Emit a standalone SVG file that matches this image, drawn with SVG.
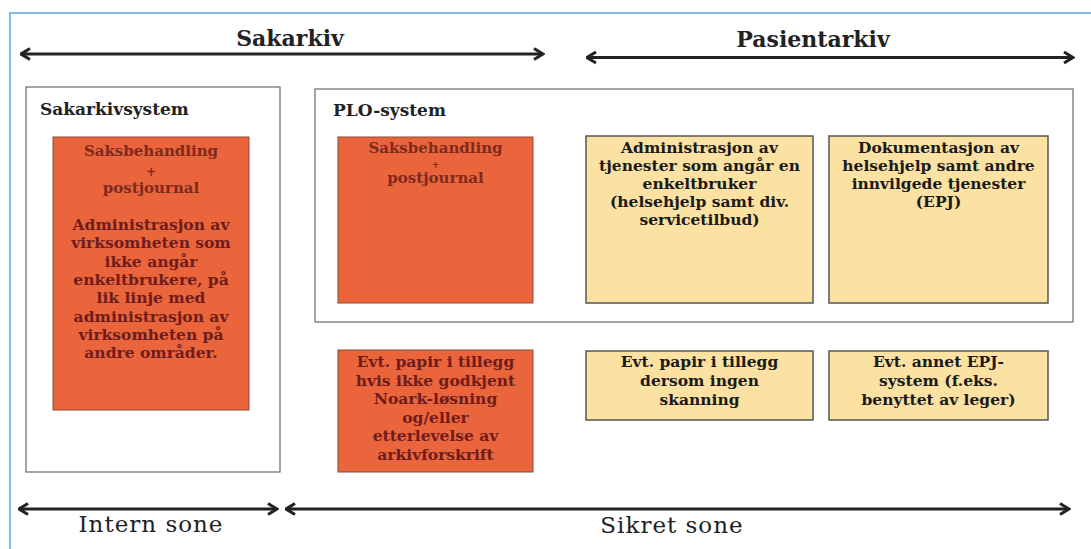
<svg xmlns="http://www.w3.org/2000/svg" width="1091" height="549" viewBox="0 0 1091 549">
  <style>
    .frame { fill: none; stroke: #5aa8e4; stroke-width: 1.5; }
    .container { fill: #ffffff; stroke: #6a6a6a; stroke-width: 1.2; }
    .orange { fill: #ea653b; stroke: #8c4a36; stroke-width: 1; }
    .yellow { fill: #fbe2a2; stroke: #555555; stroke-width: 1.5; }
    .head { font-family: "DejaVu Serif", "Liberation Serif", serif; font-weight: bold; font-size: 22px; fill: #222; text-anchor: middle; }
    .title { font-family: "DejaVu Serif", "Liberation Serif", serif; font-weight: bold; font-size: 17px; fill: #222; }
    .ot { font-family: "DejaVu Serif", "Liberation Serif", serif; font-weight: bold; font-size: 15.5px; fill: #6e1c1c; text-anchor: middle; }
    .ot2 { font-family: "DejaVu Serif", "Liberation Serif", serif; font-weight: bold; font-size: 15px; fill: #7e2a1e; text-anchor: middle; }
    .plus { font-family: "DejaVu Serif", "Liberation Serif", serif; font-weight: bold; font-size: 9px; fill: #7e2a1e; text-anchor: middle; }
    .plus2 { font-family: "DejaVu Serif", "Liberation Serif", serif; font-weight: bold; font-size: 12px; fill: #7e2a1e; text-anchor: middle; }
    .yt { font-family: "DejaVu Serif", "Liberation Serif", serif; font-weight: bold; font-size: 15.5px; fill: #1a1a1a; text-anchor: middle; }
    .zone { font-family: "DejaVu Serif", "Liberation Serif", serif; font-size: 23px; fill: #222; text-anchor: middle; letter-spacing: 1px; }
    .arrow { stroke: #222; stroke-width: 3; fill: none; marker-start: url(#ah); marker-end: url(#ah); }
  </style>
  <defs>
    <marker id="ah" viewBox="0 0 12 14" refX="10.5" refY="7" markerWidth="12" markerHeight="14" markerUnits="userSpaceOnUse" orient="auto-start-reverse">
      <path d="M1.5,1.5 L10.5,7 L1.5,12.5" fill="none" stroke="#222" stroke-width="3" stroke-linejoin="miter"/>
    </marker>
  </defs>

  <rect width="1091" height="549" fill="#ffffff"/>
  <rect class="frame" x="10" y="13" width="1090" height="560"/>

  <g id="labels">
    <text class="head" x="290" y="46">Sakarkiv</text>
    <text class="head" x="813" y="47">Pasientarkiv</text>
    <text class="zone" x="151" y="532">Intern sone</text>
    <text class="zone" x="672" y="533">Sikret sone</text>
  </g>

  <g id="connectors">
    <line class="arrow" x1="21" y1="54" x2="543" y2="54"/>
    <line class="arrow" x1="587" y1="57.5" x2="1073" y2="57.5"/>
    <line class="arrow" x1="19" y1="509" x2="277" y2="509"/>
    <line class="arrow" x1="286" y1="509" x2="1069" y2="509"/>
  </g>

  <g id="sakarkivsystem">
    <rect class="container" x="26" y="87" width="254" height="385"/>
    <text class="title" x="40" y="115">Sakarkivsystem</text>
  </g>

  <g id="plo-system">
    <rect class="container" x="315" y="89" width="758" height="233"/>
    <text class="title" x="333" y="116">PLO-system</text>
  </g>

  <g id="sak-saksbehandling">
    <rect class="orange" x="53" y="137" width="196" height="273"/>
    <text class="ot2" x="151" y="156">Saksbehandling</text>
    <text class="plus2" x="151" y="176">+</text>
    <text class="ot2" x="151" y="193">postjournal</text>
    <text class="ot" x="151" y="230">Administrasjon av</text>
    <text class="ot" x="151" y="248.3">virksomheten som</text>
    <text class="ot" x="151" y="266.6">ikke angår</text>
    <text class="ot" x="151" y="284.9">enkeltbrukere, på</text>
    <text class="ot" x="151" y="303.2">lik linje med</text>
    <text class="ot" x="151" y="321.5">administrasjon av</text>
    <text class="ot" x="151" y="339.8">virksomheten på</text>
    <text class="ot" x="151" y="358.1">andre områder.</text>
  </g>

  <g id="plo-saksbehandling">
    <rect class="orange" x="338" y="137" width="195" height="166"/>
    <text class="ot2" x="435.5" y="153">Saksbehandling</text>
    <text class="plus" x="435.5" y="168">+</text>
    <text class="ot2" x="435.5" y="183">postjournal</text>
  </g>

  <g id="plo-papir">
    <rect class="orange" x="338" y="350" width="195" height="122"/>
    <text class="ot" x="435.5" y="367">Evt. papir i tillegg</text>
    <text class="ot" x="435.5" y="385.6">hvis ikke godkjent</text>
    <text class="ot" x="435.5" y="404.2">Noark-løsning</text>
    <text class="ot" x="435.5" y="422.8">og/eller</text>
    <text class="ot" x="435.5" y="441.4">etterlevelse av</text>
    <text class="ot" x="435.5" y="460">arkivforskrift</text>
  </g>

  <g id="administrasjon-tjenester">
    <rect class="yellow" x="586" y="136" width="227" height="167"/>
    <text class="yt" x="699.5" y="153">Administrasjon av</text>
    <text class="yt" x="699.5" y="171">tjenester som angår en</text>
    <text class="yt" x="699.5" y="189">enkeltbruker</text>
    <text class="yt" x="699.5" y="207">(helsehjelp samt div.</text>
    <text class="yt" x="699.5" y="225">servicetilbud)</text>
  </g>

  <g id="dokumentasjon-epj">
    <rect class="yellow" x="829" y="136" width="219" height="167"/>
    <text class="yt" x="938.5" y="153">Dokumentasjon av</text>
    <text class="yt" x="938.5" y="171">helsehjelp samt andre</text>
    <text class="yt" x="938.5" y="189">innvilgede tjenester</text>
    <text class="yt" x="938.5" y="207">(EPJ)</text>
  </g>

  <g id="pasient-papir">
    <rect class="yellow" x="586" y="351" width="227" height="69"/>
    <text class="yt" x="699.5" y="367">Evt. papir i tillegg</text>
    <text class="yt" x="699.5" y="386">dersom ingen</text>
    <text class="yt" x="699.5" y="405">skanning</text>
  </g>

  <g id="annet-epj">
    <rect class="yellow" x="829" y="351" width="219" height="69"/>
    <text class="yt" x="938.5" y="367">Evt. annet EPJ-</text>
    <text class="yt" x="938.5" y="386">system (f.eks.</text>
    <text class="yt" x="938.5" y="405">benyttet av leger)</text>
  </g>
</svg>
